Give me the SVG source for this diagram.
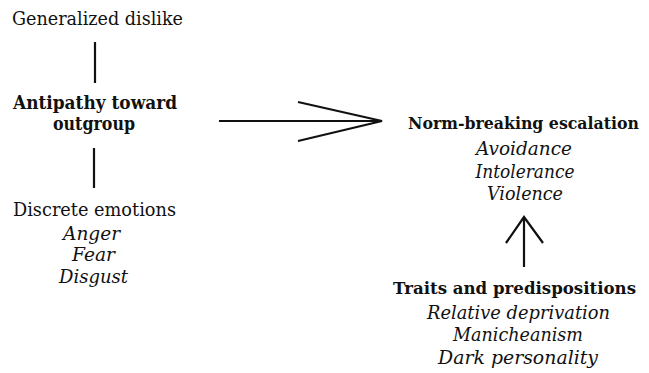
<svg xmlns="http://www.w3.org/2000/svg" width="649" height="373" viewBox="0 0 649 373">
<style>
text{font-family:"DejaVu Serif",serif;font-size:18px;fill:#111;text-anchor:middle}
.b{font-weight:bold;font-size:18.5px}
.s{font-size:16px}
.i{font-style:italic}
.c{stroke:#111;stroke-width:2.2;fill:none;stroke-linecap:butt}
</style>
<rect width="649" height="373" fill="#fff"/>
<g id="connectors">
<line class="c" x1="95" y1="42" x2="95" y2="83"/>
<line class="c" x1="94" y1="148" x2="94" y2="188"/>
<line class="c" x1="219" y1="121" x2="382" y2="121"/>
<polyline class="c" points="298,102 382,121 298,141"/>
<line class="c" x1="524" y1="267" x2="524" y2="217"/>
<polyline class="c" points="506,243 524,217 543,243"/>
</g>
<g id="generalized-dislike">
<text x="97.5" y="25" textLength="171" lengthAdjust="spacingAndGlyphs">Generalized dislike</text>
</g>
<g id="antipathy">
<text class="b" x="95" y="109" textLength="164" lengthAdjust="spacingAndGlyphs">Antipathy toward</text>
<text class="b" x="94" y="130" textLength="82" lengthAdjust="spacingAndGlyphs">outgroup</text>
</g>
<g id="discrete-emotions">
<text x="94.5" y="216" textLength="163" lengthAdjust="spacingAndGlyphs">Discrete emotions</text>
<text class="i" x="91.5" y="240" textLength="57" lengthAdjust="spacingAndGlyphs">Anger</text>
<text class="i" x="93.5" y="261" textLength="43" lengthAdjust="spacingAndGlyphs">Fear</text>
<text class="i" x="93.5" y="283" textLength="69" lengthAdjust="spacingAndGlyphs">Disgust</text>
</g>
<g id="norm-breaking">
<text class="b s" x="523.5" y="129" textLength="231" lengthAdjust="spacingAndGlyphs">Norm-breaking escalation</text>
<text class="i" x="524" y="155" textLength="96" lengthAdjust="spacingAndGlyphs">Avoidance</text>
<text class="i" x="525" y="178" textLength="99" lengthAdjust="spacingAndGlyphs">Intolerance</text>
<text class="i" x="525" y="200" textLength="76" lengthAdjust="spacingAndGlyphs">Violence</text>
</g>
<g id="traits">
<text class="b s" x="514.5" y="294" textLength="243" lengthAdjust="spacingAndGlyphs">Traits and predispositions</text>
<text class="i" x="518.5" y="319" textLength="183" lengthAdjust="spacingAndGlyphs">Relative deprivation</text>
<text class="i" x="518" y="341" textLength="130" lengthAdjust="spacingAndGlyphs">Manicheanism</text>
<text class="i" x="518" y="364" textLength="160" lengthAdjust="spacingAndGlyphs">Dark personality</text>
</g>
</svg>
